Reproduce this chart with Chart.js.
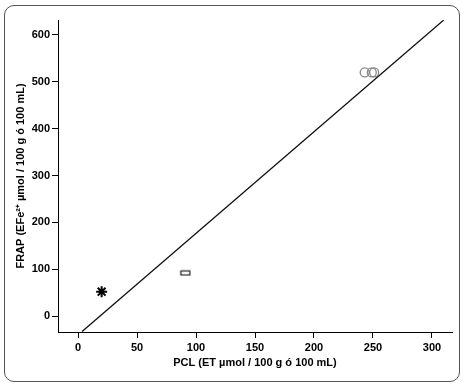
<!DOCTYPE html>
<html>
<head>
<meta charset="utf-8">
<script src="https://cdn.jsdelivr.net/npm/chart.js@4"></script>
<style>
  html, body { margin: 0; padding: 0; background: #fff; }
  #wrap { position: relative; width: 465px; height: 389px; }
  #frame {
    position: absolute; left: 4px; top: 5px; width: 456px; height: 377px;
    border: 1px solid #555; border-radius: 10px; box-sizing: border-box;
  }
  canvas { position: absolute; left: 0; top: 0; }
</style>
</head>
<body>
<div id="wrap">
  <div id="frame"></div>
  <canvas id="chart" width="465" height="389"></canvas>
</div>
<script>
// samples
const starPcl = [20];
const starFrap = [52];
const rectPcl = [91];
const rectFrap = [92];
const circlePcl = [243, 249, 251];
const circleFrap = [520, 520, 520];

// regression line end points
const fitPcl = [3.4, 310];
const fitFrap = [-33, 632];

const xTicks = [0, 50, 100, 150, 200, 250, 300];
const yTicks = [0, 100, 200, 300, 400, 500, 600];

const toPoints = (xs, ys) => xs.map((x, i) => ({ x: x, y: ys[i] }));

// little flat rectangle marker
const rectMarker = document.createElement('canvas');
rectMarker.width = 12;
rectMarker.height = 7;
const rc = rectMarker.getContext('2d');
rc.fillStyle = '#fff';
rc.fillRect(1, 1, 10, 5);
rc.strokeStyle = '#222';
rc.lineWidth = 1.2;
rc.strokeRect(1.5, 1.5, 9, 4);

const font = { family: 'Liberation Sans, Arial, sans-serif', size: 11, weight: 'bold' };

new Chart(document.getElementById('chart').getContext('2d'), {
    type: 'scatter',
    data: {
        datasets: [
            {
                type: 'line',
                data: toPoints(fitPcl, fitFrap),
                borderColor: '#111',
                borderWidth: 1.3,
                pointRadius: 0,
                fill: false
            },
            {
                data: toPoints(circlePcl, circleFrap),
                pointStyle: 'circle',
                pointRadius: 4.5,
                borderColor: '#888',
                borderWidth: 1.3,
                backgroundColor: 'rgba(255,255,255,0)'
            },
            {
                data: toPoints(rectPcl, rectFrap),
                pointStyle: rectMarker
            },
            {
                data: toPoints(starPcl, starFrap),
                pointStyle: 'star',
                pointRadius: 5.5,
                borderColor: '#000',
                borderWidth: 2
            },
            {
                // white centre of the star
                data: toPoints(starPcl, starFrap),
                pointStyle: 'circle',
                pointRadius: 1.5,
                borderWidth: 0,
                backgroundColor: '#fff'
            }
        ]
    },
    options: {
        responsive: false,
        animation: false,
        layout: { padding: { left: 14, top: 20, right: 13, bottom: 19 } },
        plugins: { legend: { display: false }, tooltip: { enabled: false } },
        scales: {
            x: {
                type: 'linear',
                min: -17,
                max: 317,
                afterBuildTicks: (axis) => { axis.ticks = xTicks.map(v => ({ value: v })); },
                afterFit: (axis) => { axis.height = 38; },
                grid: { drawOnChartArea: false, drawTicks: true, tickLength: 6, color: '#000' },
                border: { display: true, color: '#000', width: 1 },
                ticks: { color: '#000', font: font, padding: 3, maxRotation: 0 },
                title: {
                    display: true,
                    text: 'PCL (ET µmol / 100 g ó 100 mL)',
                    color: '#000',
                    font: font,
                    padding: { top: 2, bottom: 0 }
                }
            },
            y: {
                type: 'linear',
                min: -34,
                max: 632,
                afterBuildTicks: (axis) => { axis.ticks = yTicks.map(v => ({ value: v })); },
                afterFit: (axis) => { axis.width = 44; },
                grid: { drawOnChartArea: false, drawTicks: true, tickLength: 6, color: '#000' },
                border: { display: true, color: '#000', width: 1 },
                ticks: { color: '#000', font: font, padding: 2 },
                title: {
                    display: true,
                    text: 'FRAP (EFe²⁺ µmol / 100 g ó 100 mL)',
                    color: '#000',
                    font: font,
                    padding: { top: 0, bottom: 4 }
                }
            }
        }
    }
});
</script>
</body>
</html>
